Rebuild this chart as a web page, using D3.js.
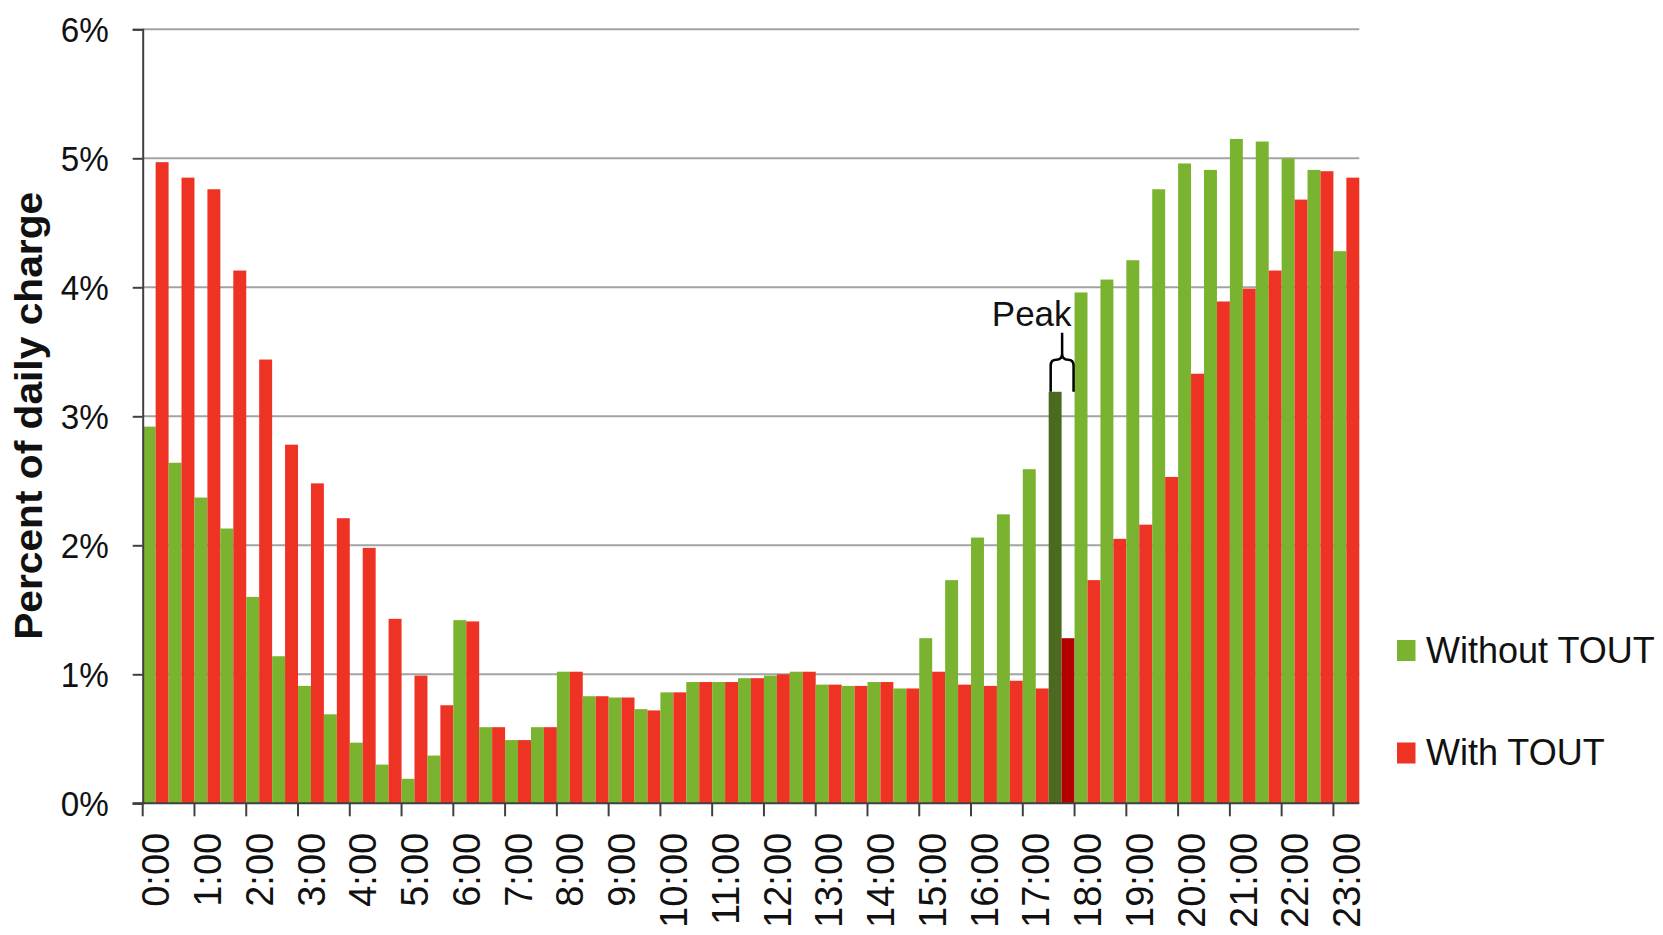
<!DOCTYPE html>
<html>
<head>
<meta charset="utf-8">
<script src="https://cdn.jsdelivr.net/npm/d3@7/dist/d3.min.js"></script>
<style>
body { margin: 0; background: #fff; }
svg { display: block; font-family: "Liberation Sans", Arial, sans-serif; }
</style>
</head>
<body>
<svg class="tout-chart" width="1663" height="935"></svg>
<script>
(function () {
'use strict';

var times = ["0:00", "0:30", "1:00", "1:30", "2:00", "2:30", "3:00", "3:30", "4:00", "4:30",
    "5:00", "5:30", "6:00", "6:30", "7:00", "7:30", "8:00", "8:30", "9:00", "9:30",
    "10:00", "10:30", "11:00", "11:30", "12:00", "12:30", "13:00", "13:30", "14:00", "14:30",
    "15:00", "15:30", "16:00", "16:30", "17:00", "17:30", "18:00", "18:30", "19:00", "19:30",
    "20:00", "20:30", "21:00", "21:30", "22:00", "22:30", "23:00"];

// percent of daily charge
var withoutTout = [2.92, 2.64, 2.37, 2.13, 1.60, 1.14, 0.91, 0.69, 0.47, 0.30,
    0.19, 0.37, 1.42, 0.59, 0.49, 0.59, 1.02, 0.83, 0.82, 0.73,
    0.86, 0.94, 0.94, 0.97, 0.99, 1.02, 0.92, 0.91, 0.94, 0.89,
    1.28, 1.73, 2.06, 2.24, 2.59, 3.19, 3.96, 4.06, 4.21, 4.76,
    4.96, 4.91, 5.15, 5.13, 5.00, 4.91, 4.28];

var withTout = [4.97, 4.85, 4.76, 4.13, 3.44, 2.78, 2.48, 2.21, 1.98, 1.43,
    0.99, 0.76, 1.41, 0.59, 0.49, 0.59, 1.02, 0.83, 0.82, 0.72,
    0.86, 0.94, 0.94, 0.97, 1.00, 1.02, 0.92, 0.91, 0.94, 0.89,
    1.02, 0.92, 0.91, 0.95, 0.89, 1.28, 1.73, 2.05, 2.16, 2.53,
    3.33, 3.89, 3.99, 4.13, 4.68, 4.90, 4.85];

var seriesNames = ["Without TOUT", "With TOUT"];
var hourLabels = ["0:00", "1:00", "2:00", "3:00", "4:00", "5:00", "6:00", "7:00", "8:00", "9:00",
    "10:00", "11:00", "12:00", "13:00", "14:00", "15:00", "16:00", "17:00", "18:00", "19:00",
    "20:00", "21:00", "22:00", "23:00"];
var yTicks = [0, 1, 2, 3, 4, 5, 6];
var peakTime = "17:30";

var colors = { "Without TOUT": "#7ab32f", "With TOUT": "#ee3224" };
var peakColors = { "Without TOUT": "#4a6b1f", "With TOUT": "#b30000" };

var svg = d3.select(".tout-chart");
var plotLeft = 142.7;
var plotRight = 1359.3;
var plotTop = 29.3;
var plotBottom = 803.3;

var x = d3.scaleBand().domain(times).range([plotLeft, plotRight]).padding(0);
var xSub = d3.scaleBand().domain(seriesNames).range([0, x.bandwidth()]).padding(0);
var y = d3.scaleLinear().domain([0, 6]).range([plotBottom, plotTop]);

var rows = times.map(function (t, i) {
    return { time: t, values: [
        { series: seriesNames[0], value: withoutTout[i] },
        { series: seriesNames[1], value: withTout[i] }
    ] };
});

// gridlines
svg.append("g")
    .selectAll("line")
    .data(yTicks.slice(1))
    .enter().append("line")
    .attr("x1", plotLeft)
    .attr("x2", plotRight)
    .attr("y1", function (d) { return y(d); })
    .attr("y2", function (d) { return y(d); })
    .attr("stroke", "#a3a3a3")
    .attr("stroke-width", 2);

// bars
var groups = svg.append("g")
    .selectAll("g")
    .data(rows)
    .enter().append("g")
    .attr("transform", function (d) { return "translate(" + x(d.time) + ",0)"; });

groups.selectAll("rect")
    .data(function (d) { return d.values.map(function (v) { v.time = d.time; return v; }); })
    .enter().append("rect")
    .attr("x", function (d) { return xSub(d.series); })
    .attr("width", xSub.bandwidth())
    .attr("y", function (d) { return y(d.value); })
    .attr("height", function (d) { return y(0) - y(d.value); })
    .attr("fill", function (d) { return d.time === peakTime ? peakColors[d.series] : colors[d.series]; });

// y axis
var yAxis = svg.append("g")
    .attr("transform", "translate(" + plotLeft + ",0)")
    .call(d3.axisLeft(y).tickValues(yTicks).tickFormat(function (d) { return d + "%"; }).tickSize(10).tickPadding(24));
yAxis.select(".domain").attr("stroke", "#404040").attr("stroke-width", 2);
yAxis.selectAll(".tick line").attr("stroke", "#404040").attr("stroke-width", 2);
yAxis.selectAll(".tick text")
    .attr("font-size", 35)
    .attr("font-family", "'Liberation Sans', Arial, sans-serif")
    .attr("fill", "#111")
    .attr("textLength", 48)
    .attr("lengthAdjust", "spacingAndGlyphs")
    .attr("dy", "0.36em");

// x axis (line, hour ticks at category edges, labels on hour categories)
var xAxis = svg.append("g");
xAxis.append("line")
    .attr("x1", plotLeft - 10)
    .attr("x2", plotRight)
    .attr("y1", plotBottom)
    .attr("y2", plotBottom)
    .attr("stroke", "#404040")
    .attr("stroke-width", 2);

xAxis.selectAll("line.tick")
    .data(hourLabels)
    .enter().append("line")
    .attr("class", "tick")
    .attr("x1", function (d) { return x(d); })
    .attr("x2", function (d) { return x(d); })
    .attr("y1", plotBottom)
    .attr("y2", plotBottom + 13)
    .attr("stroke", "#404040")
    .attr("stroke-width", 2);

xAxis.selectAll("text")
    .data(hourLabels)
    .enter().append("text")
    .attr("transform", function (d) {
        return "translate(" + (x(d) + x.bandwidth() / 2) + "," + (plotBottom + 29.5) + ") rotate(-90)";
    })
    .attr("text-anchor", "end")
    .attr("dy", "0.36em")
    .attr("font-size", 38)
    .attr("fill", "#111")
    .text(function (d) { return d; });

// y axis title
svg.append("text")
    .attr("transform", "translate(41.7," + ((191.7 + 640) / 2) + ") rotate(-90)")
    .attr("text-anchor", "middle")
    .attr("font-size", 38)
    .attr("font-weight", "bold")
    .attr("fill", "#111")
    .attr("textLength", 448)
    .attr("lengthAdjust", "spacingAndGlyphs")
    .text("Percent of daily charge");

// peak bracket and label
var peakIndex = times.indexOf(peakTime);
var peakTop = y(Math.max(withoutTout[peakIndex], withTout[peakIndex]));
var bl = x(peakTime) + 2;
var br = x(peakTime) + x.bandwidth() - 1;
var bc = (bl + br) / 2;
var stemTop = peakTop - 59;
var armY = peakTop - 32;
var bracket = d3.path();
bracket.moveTo(bc, stemTop);
bracket.lineTo(bc, armY - 6);
bracket.quadraticCurveTo(bc, armY, bc - 6, armY);
bracket.quadraticCurveTo(bl, armY, bl, armY + 6);
bracket.lineTo(bl, peakTop);
bracket.moveTo(bc, armY - 6);
bracket.quadraticCurveTo(bc, armY, bc + 6, armY);
bracket.quadraticCurveTo(br, armY, br, armY + 6);
bracket.lineTo(br, peakTop);

svg.append("path")
    .attr("d", bracket.toString())
    .attr("fill", "none")
    .attr("stroke", "#000")
    .attr("stroke-width", 2.5);

svg.append("text")
    .attr("x", br - 2)
    .attr("y", stemTop - 6.5)
    .attr("text-anchor", "end")
    .attr("font-size", 35)
    .attr("fill", "#111")
    .text("Peak");

// legend
var legend = svg.append("g")
    .selectAll("g")
    .data(seriesNames)
    .enter().append("g")
    .attr("transform", function (d, i) { return "translate(1397," + (640 + i * 102.5) + ")"; });

legend.append("rect")
    .attr("width", 18.5)
    .attr("height", 21)
    .attr("fill", function (d) { return colors[d]; });

legend.append("text")
    .attr("x", 29)
    .attr("y", 22.5)
    .attr("font-size", 36)
    .attr("fill", "#111")
    .text(function (d) { return d; });
})();
</script>
</body>
</html>
